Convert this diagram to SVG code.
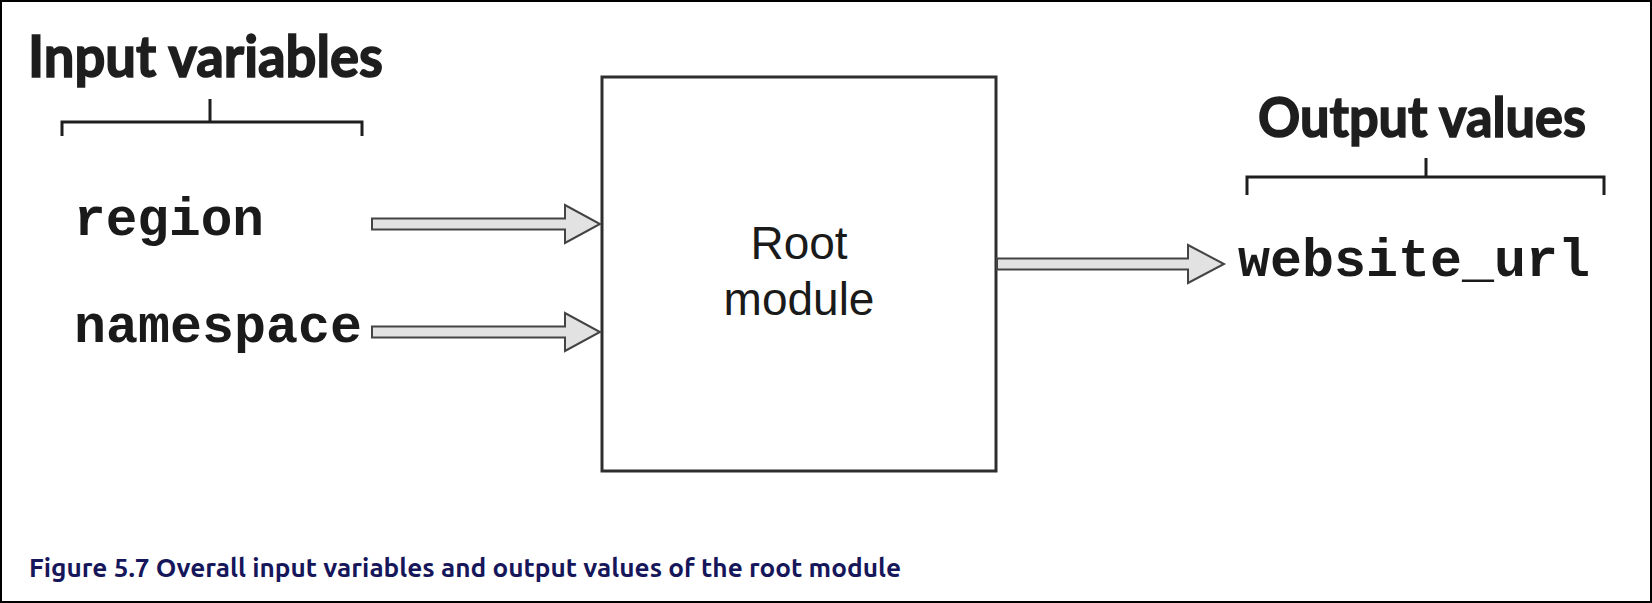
<svg xmlns="http://www.w3.org/2000/svg" width="1652" height="603" viewBox="0 0 1652 603">
<style>
.head{font-family:Lato,"Liberation Sans",sans-serif;font-weight:bold;fill:#1e1e1e;stroke:#1e1e1e;stroke-width:1.6}
.code{font-family:"Liberation Mono","Courier New",monospace;font-weight:bold;font-size:53px;fill:#1a1a1a}
.box{fill:#fff;stroke:#2e2e2e;stroke-width:3}
.boxtxt{font-family:"Liberation Sans",Arial,sans-serif;font-size:46px;fill:#1a1a1a;text-anchor:middle}
.brk{fill:none;stroke:#1e1e1e;stroke-width:3}
.arrow{fill:#e2e2e2;stroke:#444;stroke-width:2;stroke-linejoin:miter}
.cap{font-family:Ubuntu,"Open Sans","Liberation Sans",sans-serif;font-weight:bold;font-size:25px;fill:#16165a}
</style>
<rect x="0" y="0" width="1652" height="603" fill="#fff"/>
<rect x="1" y="1" width="1650" height="601" fill="none" stroke="#000" stroke-width="2"/>

<g id="input-variables">
<text class="head" x="28" y="77" font-size="58" textLength="355" lengthAdjust="spacingAndGlyphs">Input variables</text>
<path class="brk" d="M62 136 V122 H362 V136 M210 122 V99"/>
</g>

<g id="region">
<text class="code" x="74" y="235" textLength="190" lengthAdjust="spacingAndGlyphs">region</text>
</g>

<g id="namespace">
<text class="code" x="74" y="342" textLength="288" lengthAdjust="spacingAndGlyphs">namespace</text>
</g>

<g id="root-module">
<rect class="box" x="602" y="77" width="394" height="394"/>
<text class="boxtxt" x="799" y="259">Root</text>
<text class="boxtxt" x="799" y="315">module</text>
</g>

<g id="output-values">
<text class="head" x="1258" y="137" font-size="56" textLength="328" lengthAdjust="spacingAndGlyphs">Output values</text>
<path class="brk" d="M1247 195 V177 H1604 V195 M1426 177 V158"/>
</g>

<g id="website_url">
<text class="code" x="1238" y="276" textLength="352" lengthAdjust="spacingAndGlyphs">website_url</text>
</g>

<g id="connectors">
<polygon class="arrow" points="372,218.5 565,218.5 565,205 600,224 565,243 565,229.5 372,229.5"/>
<polygon class="arrow" points="372,326.5 565,326.5 565,313 600,332 565,351 565,337.5 372,337.5"/>
<polygon class="arrow" points="997,258.5 1188,258.5 1188,245 1224,264 1188,283 1188,269.5 997,269.5"/>
</g>

<text class="cap" x="29" y="577" textLength="872" lengthAdjust="spacingAndGlyphs">Figure 5.7 Overall input variables and output values of the root module</text>
</svg>
